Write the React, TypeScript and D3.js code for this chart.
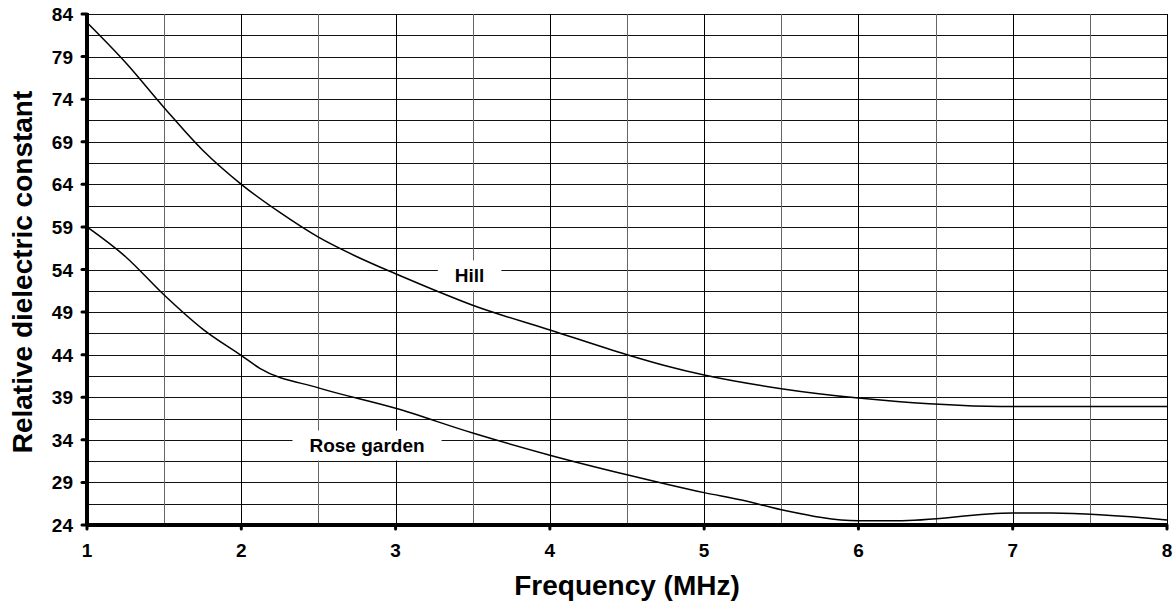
import React from "react";
import * as d3 from "d3";

const hillX = [1, 1.25, 1.5, 1.75, 2, 2.25, 2.5, 2.75, 3, 3.25, 3.5, 4, 4.5, 4.75, 5, 5.5, 6, 6.25, 7, 8];
const hillY = [83, 78.3, 73, 68, 64, 60.7, 57.8, 55.5, 53.5, 51.6, 49.8, 46.9, 44, 42.7, 41.6, 40, 38.9, 38.5, 37.9, 37.9];
const roseX = [1, 1.25, 1.5, 1.75, 2, 2.12, 2.5, 3, 3.5, 4, 4.5, 5, 5.25, 5.5, 6, 6.25, 7, 7.25, 8];
const roseY = [59, 55.5, 51, 47, 43.9, 42.4, 40.1, 37.7, 34.8, 32.2, 29.9, 27.8, 26.9, 25.8, 24.5, 24.5, 25.4, 25.4, 24.6];
const yTicks = [24, 29, 34, 39, 44, 49, 54, 59, 64, 69, 74, 79, 84];
const xTicks = [1, 2, 3, 4, 5, 6, 7, 8];
const seriesLabels = [
  { text: "Hill", x: 3.48, y: 53.3 },
  { text: "Rose garden", x: 2.815, y: 33.33 },
];

const FONT = "'Liberation Sans', Arial, sans-serif";
function measure(text: string, size: number) {
  const c = document.createElement("canvas").getContext("2d");
  if (!c) return text.length * size * 0.6;
  c.font = `bold ${size}px ${FONT}`;
  return c.measureText(text).width;
}

export default function App() {
  const W = 1174, H = 606;
  const x = d3.scaleLinear().domain([1, 8]).range([87, 1167]);
  const y = d3.scaleLinear().domain([24, 84]).range([525, 14]);
  const line = d3.line<[number, number]>().x(d => x(d[0])).y(d => y(d[1])).curve(d3.curveMonotoneX);
  const hGrid = d3.range(24, 84.01, 2.5);
  const vGrid = d3.range(1, 8.01, 0.5);
  return (
    <svg width={W} height={H} style={{ position: "absolute", left: 0, top: 0 }} fontFamily={FONT}>
      <rect width={W} height={H} fill="#fff" />
      {hGrid.map(v => (
        <line key={"h" + v} x1={x(1)} x2={x(8)} y1={Math.round(y(v)) + 0.5} y2={Math.round(y(v)) + 0.5} stroke="#111" strokeWidth={1} />
      ))}
      {vGrid.map(v => (
        <line key={"v" + v} x1={Math.round(x(v)) + 0.5} x2={Math.round(x(v)) + 0.5} y1={y(84)} y2={y(24)}
          stroke={Number.isInteger(v) ? "#000" : "#666"} strokeWidth={1} />
      ))}
      <path d={line(hillX.map((v, i) => [v, hillY[i]]) as any) || ""} fill="none" stroke="#000" strokeWidth={1.5} />
      <path d={line(roseX.map((v, i) => [v, roseY[i]]) as any) || ""} fill="none" stroke="#000" strokeWidth={1.5} />
      {seriesLabels.map(l => {
        const w = measure(l.text, 19) + 34;
        return (
          <g key={l.text}>
            <rect x={x(l.x) - w / 2} y={y(l.y) - 15} width={w} height={30} fill="#fff" />
            <text x={x(l.x)} y={y(l.y) + 6.5} textAnchor="middle" fontSize={19} fontWeight="bold">{l.text}</text>
          </g>
        );
      })}
      <line x1={x(1)} x2={x(1)} y1={y(84) - 1} y2={y(24)} stroke="#000" strokeWidth={4} />
      <line x1={x(1)} x2={x(8) + 1} y1={y(24)} y2={y(24)} stroke="#000" strokeWidth={4} />
      {yTicks.map(t => (
        <g key={"yt" + t}>
          <line x1={x(1) - 5} x2={x(1)} y1={y(t)} y2={y(t)} stroke="#000" strokeWidth={3} strokeLinecap="round" />
          <text x={73} y={y(t) + 7} textAnchor="end" fontSize={19} fontWeight="bold">{t}</text>
        </g>
      ))}
      {xTicks.map(t => (
        <g key={"xt" + t}>
          <line x1={x(t)} x2={x(t)} y1={y(24)} y2={y(24) + 4} stroke="#000" strokeWidth={3} strokeLinecap="round" />
          <text x={x(t)} y={557} textAnchor="middle" fontSize={19} fontWeight="bold">{t}</text>
        </g>
      ))}
      <text x={627} y={595} textAnchor="middle" fontSize={28} fontWeight="bold">Frequency (MHz)</text>
      <text transform={`translate(32, 272) rotate(-90)`} textAnchor="middle" fontSize={28} fontWeight="bold">Relative dielectric constant</text>
    </svg>
  );
}
